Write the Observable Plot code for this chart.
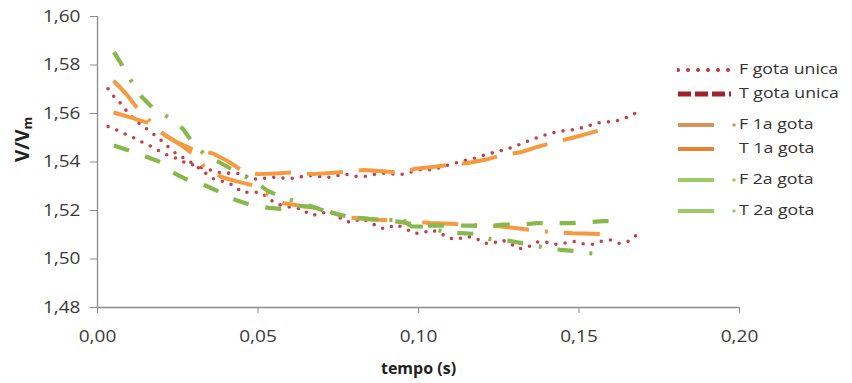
<!DOCTYPE html>
<html>
<head>
<meta charset="utf-8">
<script src="https://cdn.jsdelivr.net/npm/d3@7"></script>
<script src="https://cdn.jsdelivr.net/npm/@observablehq/plot@0.6"></script>
<style>
  html, body { margin: 0; padding: 0; background: #fff; }
  #chart { position: relative; width: 852px; height: 383px; font-family: "Open Sans", sans-serif; }
  #chart svg.plot { position: absolute; left: 0; top: 0; }
  .legend-row { position: absolute; left: 677px; height: 20px; width: 175px; }
  .legend-row svg { position: absolute; left: 0; top: 4px; }
  .legend-row span { position: absolute; left: 62px; top: -1px; font-size: 14.5px; color: #333;
    white-space: nowrap; transform: scaleX(1.22); transform-origin: left center; }
</style>
</head>
<body>
<div id="chart"></div>
<script>
// Axis ticks
const xTicks = [0, 0.05, 0.10, 0.15, 0.20];
const yTicks = [1.48, 1.50, 1.52, 1.54, 1.56, 1.58, 1.60];

// Series names (legend order)
const seriesNames = ["F gota unica", "T gota unica", "F 1a gota", "T 1a gota", "F 2a gota", "T 2a gota"];

// F gota unica
const tFUnica = [0.0033, 0.0051, 0.0072, 0.0092, 0.0113, 0.0134, 0.0160, 0.0184, 0.0205, 0.0227, 0.0248, 0.0274,
  0.0298, 0.0330, 0.0362, 0.0400, 0.0425, 0.0450, 0.0480, 0.0508, 0.0532, 0.0555, 0.0586, 0.0610, 0.0638, 0.0661,
  0.0690, 0.0715, 0.0740, 0.0767, 0.0790, 0.0820, 0.0850, 0.0877, 0.0900, 0.0930, 0.0960, 0.0986, 0.1010, 0.1040,
  0.1070, 0.1090, 0.1120, 0.1150, 0.1178, 0.1203, 0.1232, 0.1259, 0.1287, 0.1312, 0.1342, 0.1367, 0.1396, 0.1424,
  0.1453, 0.1482, 0.1510, 0.1540, 0.1570, 0.1596, 0.1624, 0.1650, 0.1678, 0.1704];
const vFUnica = [1.5702, 1.5670, 1.5642, 1.5608, 1.5578, 1.5555, 1.5530, 1.5505, 1.5482, 1.5454, 1.5431, 1.5413,
  1.5393, 1.5360, 1.5330, 1.5317, 1.5303, 1.5275, 1.5275, 1.5275, 1.5252, 1.5228, 1.5217, 1.5211, 1.5207, 1.5182,
  1.5182, 1.5197, 1.5184, 1.5159, 1.5150, 1.5166, 1.5152, 1.5129, 1.5125, 1.5142, 1.5125, 1.5106, 1.5106, 1.5120,
  1.5106, 1.5087, 1.5081, 1.5093, 1.5087, 1.5065, 1.5065, 1.5079, 1.5063, 1.5042, 1.5049, 1.5070, 1.5070, 1.5060,
  1.5065, 1.5073, 1.5063, 1.5060, 1.5073, 1.5079, 1.5065, 1.5070, 1.5097, 1.5106];

// T gota unica
const tTUnica = [0.0033, 0.0058, 0.0085, 0.0113, 0.0139, 0.0162, 0.0186, 0.0209, 0.0227, 0.0251, 0.0276, 0.0305,
  0.0330, 0.0357, 0.0386, 0.0415, 0.0445, 0.0477, 0.0502, 0.0533, 0.0563, 0.0590, 0.0620, 0.0650, 0.0680, 0.0710,
  0.0738, 0.0770, 0.0798, 0.0830, 0.0857, 0.0887, 0.0916, 0.0946, 0.0975, 0.1004, 0.1035, 0.1065, 0.1094, 0.1124,
  0.1150, 0.1180, 0.1209, 0.1238, 0.1266, 0.1294, 0.1323, 0.1351, 0.1380, 0.1408, 0.1437, 0.1466, 0.1496, 0.1525,
  0.1550, 0.1580, 0.1610, 0.1640, 0.1669, 0.1697];
const vTUnica = [1.5546, 1.5533, 1.5516, 1.5500, 1.5482, 1.5468, 1.5450, 1.5434, 1.5423, 1.5413, 1.5395, 1.5386,
  1.5375, 1.5365, 1.5354, 1.5354, 1.5352, 1.5335, 1.5327, 1.5337, 1.5337, 1.5331, 1.5335, 1.5344, 1.5344, 1.5335,
  1.5341, 1.5351, 1.5341, 1.5340, 1.5348, 1.5354, 1.5351, 1.5348, 1.5358, 1.5368, 1.5368, 1.5376, 1.5388, 1.5399,
  1.5409, 1.5417, 1.5431, 1.5440, 1.5450, 1.5461, 1.5477, 1.5491, 1.5506, 1.5516, 1.5527, 1.5530, 1.5537, 1.5546,
  1.5560, 1.5564, 1.5568, 1.5578, 1.5599, 1.5603];

// F 1a gota
const tF1 = [0.0050, 0.0090, 0.0125, 0.0170, 0.0210, 0.0260, 0.0300, 0.0340, 0.0388, 0.0440, 0.0487, 0.0530,
  0.0580, 0.0630, 0.0690, 0.0740, 0.0790, 0.0850, 0.0923, 0.0980, 0.1037, 0.1100, 0.1146, 0.1200, 0.1260, 0.1320,
  0.1375, 0.1430, 0.1480, 0.1540, 0.1598];
const vF1 = [1.5736, 1.5680, 1.5620, 1.5560, 1.5510, 1.5470, 1.5430, 1.5370, 1.5337, 1.5318, 1.5303, 1.5265,
  1.5230, 1.5220, 1.5210, 1.5190, 1.5170, 1.5163, 1.5159, 1.5155, 1.5148, 1.5145, 1.5142, 1.5138, 1.5134, 1.5125,
  1.5115, 1.5110, 1.5106, 1.5104, 1.5101];

// T 1a gota
const tT1 = [0.0050, 0.0100, 0.0160, 0.0200, 0.0250, 0.0300, 0.0360, 0.0410, 0.0450, 0.0500, 0.0555, 0.0610,
  0.0670, 0.0725, 0.0780, 0.0830, 0.0890, 0.0945, 0.0990, 0.1050, 0.1106, 0.1150, 0.1210, 0.1266, 0.1318, 0.1370,
  0.1425, 0.1480, 0.1530, 0.1590];
const vT1 = [1.5604, 1.5585, 1.5560, 1.5520, 1.5480, 1.5450, 1.5435, 1.5400, 1.5365, 1.5350, 1.5353, 1.5357,
  1.5350, 1.5355, 1.5360, 1.5367, 1.5362, 1.5355, 1.5372, 1.5380, 1.5390, 1.5395, 1.5410, 1.5430, 1.5440, 1.5462,
  1.5482, 1.5500, 1.5518, 1.5540];

// F 2a gota
const tF2 = [0.0051, 0.0077, 0.0106, 0.0139, 0.0175, 0.0224, 0.0266, 0.0295, 0.0339, 0.0378, 0.0445, 0.0490,
  0.0529, 0.0575, 0.0627, 0.0670, 0.0704, 0.0760, 0.0794, 0.0850, 0.0900, 0.0944, 0.0980, 0.1006, 0.1063, 0.1115,
  0.1172, 0.1219, 0.1278, 0.1333, 0.1387, 0.1442, 0.1494, 0.1550];
const vF2 = [1.5853, 1.5798, 1.5732, 1.5667, 1.5619, 1.5582, 1.5537, 1.5482, 1.5424, 1.5400, 1.5351, 1.5320,
  1.5282, 1.5255, 1.5234, 1.5215, 1.5200, 1.5180, 1.5172, 1.5165, 1.5162, 1.5159, 1.5134, 1.5134, 1.5118, 1.5108,
  1.5104, 1.5083, 1.5076, 1.5063, 1.5049, 1.5038, 1.5032, 1.5021];

// T 2a gota
const tT2 = [0.0051, 0.0098, 0.0150, 0.0196, 0.0243, 0.0284, 0.0336, 0.0383, 0.0435, 0.0482, 0.0534, 0.0570,
  0.0620, 0.0674, 0.0715, 0.0741, 0.0793, 0.0850, 0.0900, 0.0949, 0.1000, 0.1060, 0.1162, 0.1209, 0.1266, 0.1318,
  0.1370, 0.1422, 0.1474, 0.1526, 0.1577, 0.1600];
const vT2 = [1.5468, 1.5447, 1.5423, 1.5400, 1.5351, 1.5324, 1.5303, 1.5275, 1.5241, 1.5221, 1.5211, 1.5207,
  1.5220, 1.5214, 1.5200, 1.5186, 1.5172, 1.5165, 1.5160, 1.5152, 1.5138, 1.5138, 1.5138, 1.5134, 1.5142, 1.5142,
  1.5148, 1.5148, 1.5148, 1.5152, 1.5156, 1.5156];

// Line styles for each series, in the same order as seriesNames
const lineStyles = [
  {stroke: "#c0404c", strokeWidth: 3.6, strokeDasharray: "0 9.3", strokeLinecap: "round"},
  {stroke: "#c0404c", strokeWidth: 3.6, strokeDasharray: "0 9.3", strokeLinecap: "round"},
  {stroke: "#f59a3e", strokeWidth: 4, strokeDasharray: "36 16 3 16", strokeLinecap: "butt"},
  {stroke: "#f59a3e", strokeWidth: 4, strokeDasharray: "36 16", strokeLinecap: "butt"},
  {stroke: "#86b84c", strokeWidth: 4.2, strokeDasharray: "16 16 3 16", strokeLinecap: "butt"},
  {stroke: "#86b84c", strokeWidth: 4.2, strokeDasharray: "16 17", strokeLinecap: "butt"}
];

// Legend swatch appearance
const legendSwatches = [
  {stroke: "#b8343f", width: 4, dash: "0 10", cap: "round", length: 53, dot: false},
  {stroke: "#a3222c", width: 5, dash: "13 4", cap: "butt", length: 53, dot: false},
  {stroke: "#d6945a", width: 4, dash: null, cap: "butt", length: 36, dot: true},
  {stroke: "#e5812e", width: 4, dash: null, cap: "butt", length: 36, dot: false},
  {stroke: "#9ccb68", width: 4, dash: null, cap: "butt", length: 36, dot: true},
  {stroke: "#9ccb68", width: 4, dash: null, cap: "butt", length: 36, dot: true}
];
const legendRowTops = [60, 84, 115, 139, 170, 201];

const seriesData = [
  [tFUnica, vFUnica], [tTUnica, vTUnica], [tF1, vF1], [tT1, vT1], [tF2, vF2], [tT2, vT2]
].map(([t, v], i) => t.map((ti, j) => ({serie: seriesNames[i], t: ti, v: v[j]})));

const commaFmt = d => d3.format(".2f")(d).replace(".", ",");
const axisGray = "#8a8a8a";
const textColor = "#3a3a3a";
const xLabel = "tempo (s)";
const yLabel = "V/Vm";

const plot = Plot.plot({
  width: 852,
  height: 383,
  marginLeft: 97,
  marginRight: 113,
  marginTop: 16,
  marginBottom: 76,
  x: {domain: [0, 0.2]},
  y: {domain: [1.48, 1.60]},
  style: {fontFamily: "'Open Sans', sans-serif", background: "transparent"},
  marks: [
    Plot.axisX({ticks: xTicks, tickFormat: commaFmt, tickSize: 6, tickPadding: 16, stroke: axisGray,
      fill: textColor, fontSize: 17, label: null}),
    Plot.axisY({ticks: yTicks, tickFormat: commaFmt, tickSize: 7, tickPadding: 10, stroke: axisGray,
      fill: textColor, fontSize: 17, label: null}),
    Plot.ruleX([0], {stroke: axisGray, strokeWidth: 1.3}),
    Plot.ruleY([1.48], {stroke: axisGray, strokeWidth: 1.3}),
    ...seriesData.map((d, i) => Plot.line(d, {x: "t", y: "v", ...lineStyles[i]})),
    Plot.text([xLabel], {frameAnchor: "bottom", dy: 61, lineAnchor: "middle", fontWeight: "bold",
      fontSize: 16, fill: "#222"}),
    Plot.text([yLabel], {frameAnchor: "left", dx: -75, rotate: -90, lineAnchor: "middle", fontWeight: "bold",
      fontSize: 19, fill: "#222"})
  ]
});
plot.classList.add("plot");

// Subscript for the y label
d3.select(plot).selectAll("text").filter(function () { return this.textContent === yLabel; })
  .each(function () {
    const t = d3.select(this);
    t.text("V/V");
    t.append("tspan").attr("dy", "0.3em").attr("font-size", 13).text("m");
  });

// Widen tick labels a little around their anchor point
d3.select(plot).selectAll("[aria-label='x-axis tick label'] text, [aria-label='y-axis tick label'] text")
  .attr("transform", function () { return (this.getAttribute("transform") || "") + " scale(1.12,1)"; });

const chart = document.getElementById("chart");
chart.appendChild(plot);

// Legend
seriesNames.forEach((name, i) => {
  const s = legendSwatches[i];
  const row = d3.select(chart).append("div").attr("class", "legend-row").style("top", legendRowTops[i] + "px");
  const sw = row.append("svg").attr("width", 62).attr("height", 12);
  sw.append("line").attr("x1", 1).attr("x2", 1 + s.length).attr("y1", 6).attr("y2", 6)
    .attr("stroke", s.stroke).attr("stroke-width", s.width).attr("stroke-linecap", s.cap)
    .attr("stroke-dasharray", s.dash);
  if (s.dot) sw.append("circle").attr("cx", 57).attr("cy", 6).attr("r", 1.8).attr("fill", s.stroke);
  row.append("span").text(name);
});
</script>
</body>
</html>
